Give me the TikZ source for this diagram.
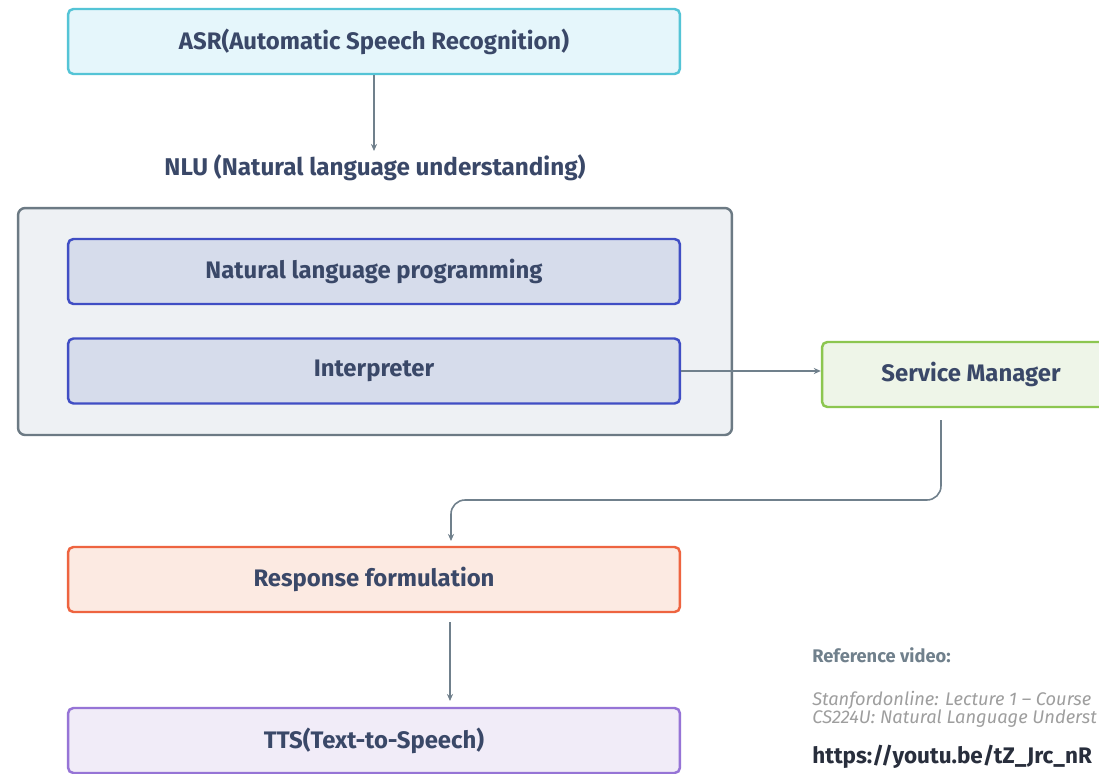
\documentclass[tikz,border=0pt]{standalone}
\usepackage{fontspec}
\setmainfont{Fira Sans}
\usetikzlibrary{positioning}
\usetikzlibrary{calc}
\usetikzlibrary{arrows.meta}
\definecolor{txtdark}{RGB}{58,72,104}
\definecolor{conngray}{RGB}{112,128,140}
\definecolor{asrline}{RGB}{84,196,214}
\definecolor{asrfill}{RGB}{229,246,251}
\definecolor{nluline}{RGB}{108,122,132}
\definecolor{nlufill}{RGB}{238,241,244}
\definecolor{innerline}{RGB}{64,78,196}
\definecolor{innerfill}{RGB}{214,220,235}
\definecolor{smline}{RGB}{140,198,80}
\definecolor{smfill}{RGB}{238,245,232}
\definecolor{rfline}{RGB}{238,100,64}
\definecolor{rffill}{RGB}{252,234,226}
\definecolor{ttsline}{RGB}{150,116,214}
\definecolor{ttsfill}{RGB}{241,236,248}
\definecolor{urldark}{RGB}{40,46,60}
\tikzset{blk/.style={draw,rounded corners=3pt,line width=1.4pt,minimum width=12.24cm,minimum height=1.3cm,inner sep=0pt,text=txtdark,font=\bfseries\fontsize{13.6}{15}\selectfont}}
\tikzset{outerbox/.style={draw=nluline,fill=nlufill,rounded corners=4pt,line width=1.4pt,minimum width=14.28cm,minimum height=4.54cm,inner sep=0pt}}
\tikzset{conn/.style={draw=conngray,line width=0.9pt,-{Stealth[length=4pt,width=3.5pt]}}}
\tikzset{reftxt/.style={anchor=west,inner sep=0pt}}

\begin{document}
\begin{tikzpicture}[x=0.02cm,y=-0.02cm]
        \useasboundingbox (0,0) rectangle (1099,774);
        \clip (0,0) rectangle (1099,774);
        \fill[white] (0,0) rectangle (1099,774);
        % boxes
        \node[blk,draw=asrline,fill=asrfill] (asr) at (374,41.5) {ASR(Automatic Speech Recognition)};
        \node[text=txtdark,font=\bfseries\fontsize{13.8}{15}\selectfont] (nlu) at (375,168) {NLU (Natural language understanding)};
        \node[outerbox] (nlubox) at (375,321.5) {};
        \node[blk,draw=innerline,fill=innerfill] (nlp) at (374,271.5) {Natural language programming};
        \node[blk,draw=innerline,fill=innerfill] (interp) at (374,371) {Interpreter};
        \node[blk,draw=smline,fill=smfill,minimum width=6.2cm] (svc) at (977,374.5) {\hspace*{-0.24cm}Service Manager};
        \node[blk,draw=rfline,fill=rffill] (resp) at (374,579.5) {Response formulation};
        \node[blk,draw=ttsline,fill=ttsfill] (tts) at (374,740.5) {TTS(Text-to-Speech)};
        % connectors
        \coordinate (asrin) at (374,151);
        \draw[conn] (asr) -- (asrin);
        \draw[conn] (interp.east) -- (svc.west |- interp.east);
        \coordinate (svcout) at (941,420);
        \coordinate (turn) at (0,500);
        \coordinate (respin) at (451,541);
        \draw[conn,rounded corners=8pt] (svcout) -- (svcout |- turn) -| (respin);
        \coordinate (respout) at (450,622);
        \coordinate (ttsin) at (450,701);
        \draw[conn] (respout) -- (ttsin);
        % reference
        \node[reftxt,text=conngray,font=\bfseries\fontsize{10.4}{12}\selectfont] (refhead) at (812,655) {Reference video:};
        \node[reftxt,text=black!38,font=\itshape\fontsize{10.4}{12}\selectfont] (refline1) at (812,700) {Stanfordonline: Lecture 1 – Course};
        \node[reftxt,text=black!38,font=\itshape\fontsize{10.4}{12}\selectfont] (refline2) at (812,719) {CS224U: Natural Language Underst};
        \node[reftxt,text=urldark,font=\bfseries\fontsize{12.8}{15}\selectfont] (refurl) at (812,757) {https://youtu.be/tZ\_Jrc\_nR};
      \end{tikzpicture}
\end{document}
